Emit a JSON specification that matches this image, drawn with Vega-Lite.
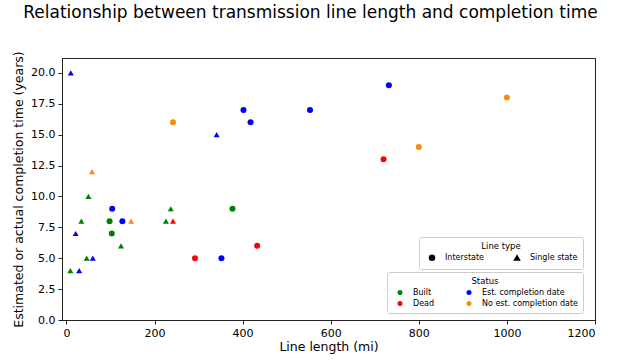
{
  "$schema": "https://vega.github.io/schema/vega-lite/v6.json",
  "autosize": "none",
  "width": 533,
  "height": 262,
  "padding": {"left": 62, "top": 58, "right": 29, "bottom": 41},
  "background": "white",
  "title": {
    "text": "Relationship between transmission line length and completion time",
    "font": "DejaVu Sans",
    "fontSize": 17,
    "fontWeight": "normal",
    "color": "black",
    "anchor": "middle",
    "dx": -18,
    "offset": 29
  },
  "config": {
    "font": "DejaVu Sans",
    "view": {"stroke": "#222", "strokeWidth": 1},
    "axis": {
      "grid": false,
      "domainColor": "#222",
      "tickColor": "#222",
      "labelColor": "black",
      "titleColor": "black",
      "labelFont": "DejaVu Sans",
      "titleFont": "DejaVu Sans",
      "labelFontSize": 11,
      "titleFontSize": 12.5,
      "titleFontWeight": "normal",
      "tickSize": 4,
      "labelPadding": 3
    },
    "legend": {
      "orient": "none",
      "labelFont": "DejaVu Sans",
      "titleFont": "DejaVu Sans",
      "labelFontSize": 8,
      "titleFontSize": 8.5,
      "titleFontWeight": "normal",
      "labelColor": "black",
      "titleColor": "black",
      "strokeColor": "#ccc",
      "cornerRadius": 2,
      "padding": 5,
      "fillColor": "white",
      "titleAnchor": "middle",
      "columns": 2,
      "rowPadding": 3,
      "symbolSize": 25,
      "symbolOffset": 4,
      "labelOffset": 9,
      "titlePadding": 3
    }
  },
  "data": {
    "values": [
      {"length": 10, "years": 20, "status": "Est. completion date", "type": "Single state"},
      {"length": 402, "years": 17, "status": "Est. completion date", "type": "Interstate"},
      {"length": 418, "years": 16, "status": "Est. completion date", "type": "Interstate"},
      {"length": 553, "years": 17, "status": "Est. completion date", "type": "Interstate"},
      {"length": 242, "years": 16, "status": "No est. completion date", "type": "Interstate"},
      {"length": 341, "years": 15, "status": "Est. completion date", "type": "Single state"},
      {"length": 58, "years": 12, "status": "No est. completion date", "type": "Single state"},
      {"length": 50, "years": 10, "status": "Built", "type": "Single state"},
      {"length": 104, "years": 9, "status": "Est. completion date", "type": "Interstate"},
      {"length": 237, "years": 9, "status": "Built", "type": "Single state"},
      {"length": 377, "years": 9, "status": "Built", "type": "Interstate"},
      {"length": 34, "years": 8, "status": "Built", "type": "Single state"},
      {"length": 98, "years": 8, "status": "Built", "type": "Interstate"},
      {"length": 127, "years": 8, "status": "Est. completion date", "type": "Interstate"},
      {"length": 147, "years": 8, "status": "No est. completion date", "type": "Single state"},
      {"length": 226, "years": 8, "status": "Built", "type": "Single state"},
      {"length": 242, "years": 8, "status": "Dead", "type": "Single state"},
      {"length": 21, "years": 7, "status": "Est. completion date", "type": "Single state"},
      {"length": 103, "years": 7, "status": "Built", "type": "Interstate"},
      {"length": 124, "years": 6, "status": "Built", "type": "Single state"},
      {"length": 433, "years": 6, "status": "Dead", "type": "Interstate"},
      {"length": 46, "years": 5, "status": "Built", "type": "Single state"},
      {"length": 60, "years": 5, "status": "Est. completion date", "type": "Single state"},
      {"length": 292, "years": 5, "status": "Dead", "type": "Interstate"},
      {"length": 352, "years": 5, "status": "Est. completion date", "type": "Interstate"},
      {"length": 9, "years": 4, "status": "Built", "type": "Single state"},
      {"length": 29, "years": 4, "status": "Est. completion date", "type": "Single state"},
      {"length": 732, "years": 19, "status": "Est. completion date", "type": "Interstate"},
      {"length": 1000, "years": 18, "status": "No est. completion date", "type": "Interstate"},
      {"length": 800, "years": 14, "status": "No est. completion date", "type": "Interstate"},
      {"length": 720, "years": 13, "status": "Dead", "type": "Interstate"}
    ]
  },
  "mark": {"type": "point", "filled": true, "opacity": 1, "size": 36},
  "encoding": {
    "x": {
      "field": "length",
      "type": "quantitative",
      "title": "Line length (mi)",
      "scale": {"domain": [-10, 1200], "nice": false, "zero": false},
      "axis": {"values": [0, 200, 400, 600, 800, 1000, 1200], "format": "d", "titlePadding": 2}
    },
    "y": {
      "field": "years",
      "type": "quantitative",
      "title": "Estimated or actual completion time (years)",
      "scale": {"domain": [0, 21.2], "nice": false},
      "axis": {"values": [0, 2.5, 5, 7.5, 10, 12.5, 15, 17.5, 20], "format": ".1f", "titlePadding": 5}
    },
    "color": {
      "field": "status",
      "type": "nominal",
      "title": "Status",
      "scale": {
        "domain": ["Built", "Dead", "Est. completion date", "No est. completion date"],
        "range": ["#008000", "#ff0000", "#0000ff", "#ff8c00"]
      },
      "legend": {
        "values": ["Built", "Dead", "Est. completion date", "No est. completion date"],
        "legendX": 325, "legendY": 214, "symbolType": "circle", "orient": "none", "columnPadding": 26
      }
    },
    "shape": {
      "field": "type",
      "type": "nominal",
      "title": "Line type",
      "scale": {"domain": ["Interstate", "Single state"], "range": ["circle", "triangle-up"]},
      "legend": {"legendX": 357, "legendY": 179, "symbolFillColor": "black", "symbolStrokeColor": "black", "orient": "none", "columnPadding": 24}
    }
  }
}
